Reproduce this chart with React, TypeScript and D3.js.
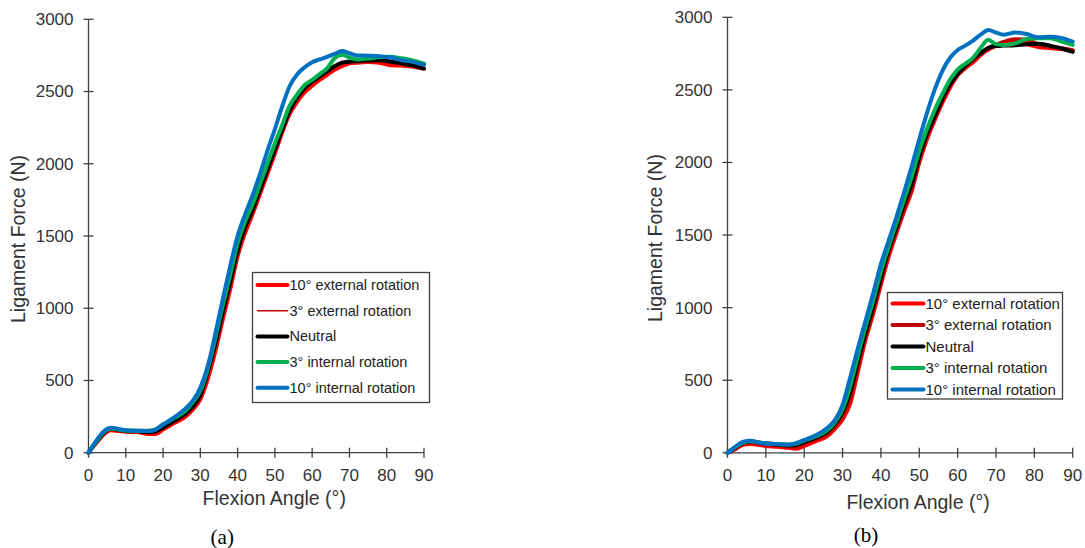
import React from "react";
import * as d3 from "d3";

// flexion angles (deg) at which forces were read
const angles = [0, 2, 4, 6, 8, 10, 13, 16, 18, 20, 23, 26, 28, 30, 32, 34, 36, 38, 40, 42, 44, 46, 48, 50, 52, 54, 56, 58, 60, 62, 64, 66, 68, 70, 72, 75, 78, 81, 84, 87, 90];

const seriesNames = ["10° external rotation", "3° external rotation", "Neutral", "3° internal rotation", "10° internal rotation"];
const seriesColors = ["#ff0000", "#c00000", "#000000", "#00b050", "#0070c0"];

// panel (a)
const aExt10 = [0, 65, 125, 155, 150, 145, 143, 130, 130, 160, 205, 250, 300, 370, 510, 700, 920, 1130, 1360, 1520, 1650, 1790, 1930, 2070, 2220, 2347, 2430, 2495, 2540, 2580, 2615, 2650, 2675, 2695, 2700, 2704, 2700, 2682, 2680, 2672, 2660];
const aExt3 = [0, 68, 130, 160, 155, 148, 146, 138, 140, 168, 212, 260, 310, 385, 535, 725, 945, 1155, 1380, 1540, 1665, 1805, 1945, 2085, 2230, 2360, 2445, 2510, 2555, 2592, 2628, 2662, 2688, 2700, 2705, 2708, 2708, 2695, 2688, 2676, 2659];
const aNeutral = [0, 70, 135, 165, 158, 150, 148, 142, 148, 175, 220, 270, 320, 400, 560, 750, 970, 1180, 1400, 1560, 1680, 1820, 1960, 2100, 2240, 2370, 2460, 2525, 2570, 2605, 2640, 2675, 2700, 2707, 2710, 2714, 2716, 2708, 2695, 2680, 2658];
const aInt3 = [0, 75, 140, 168, 160, 153, 152, 152, 162, 195, 240, 290, 350, 430, 580, 790, 1020, 1230, 1450, 1600, 1720, 1860, 2000, 2140, 2270, 2404, 2480, 2545, 2580, 2620, 2660, 2730, 2755, 2735, 2722, 2728, 2738, 2740, 2730, 2715, 2693];
const aInt10 = [0, 80, 145, 172, 165, 155, 152, 150, 160, 195, 245, 305, 360, 450, 600, 820, 1060, 1290, 1500, 1650, 1780, 1930, 2090, 2240, 2400, 2540, 2620, 2668, 2703, 2722, 2740, 2760, 2780, 2765, 2750, 2748, 2745, 2735, 2718, 2705, 2685];

// panel (b)
const bExt10 = [0, 25, 55, 60, 55, 47, 42, 34, 28, 47, 80, 115, 165, 230, 340, 560, 780, 960, 1160, 1350, 1510, 1660, 1800, 2000, 2160, 2290, 2410, 2515, 2600, 2650, 2690, 2740, 2778, 2805, 2825, 2843, 2815, 2795, 2788, 2782, 2772];
const bExt3 = [0, 30, 62, 70, 63, 55, 50, 42, 42, 62, 92, 130, 182, 255, 380, 595, 805, 985, 1185, 1375, 1530, 1680, 1825, 2020, 2180, 2305, 2425, 2528, 2605, 2658, 2702, 2748, 2785, 2810, 2830, 2848, 2845, 2812, 2798, 2788, 2772];
const bNeutral = [0, 35, 68, 80, 72, 64, 58, 50, 55, 76, 105, 145, 200, 280, 420, 630, 830, 1010, 1210, 1400, 1550, 1710, 1850, 2040, 2200, 2320, 2440, 2540, 2610, 2665, 2715, 2755, 2790, 2802, 2805, 2808, 2815, 2818, 2805, 2785, 2762];
const bInt3 = [0, 37, 70, 80, 72, 64, 60, 58, 64, 84, 112, 155, 210, 300, 460, 670, 870, 1050, 1250, 1420, 1580, 1740, 1900, 2080, 2230, 2360, 2470, 2570, 2640, 2680, 2720, 2790, 2845, 2815, 2810, 2820, 2850, 2855, 2855, 2835, 2810];
const bInt10 = [0, 40, 75, 83, 72, 65, 60, 56, 68, 88, 120, 170, 225, 330, 520, 720, 910, 1100, 1300, 1460, 1620, 1790, 1970, 2160, 2340, 2500, 2630, 2720, 2775, 2805, 2840, 2880, 2912, 2895, 2880, 2895, 2885, 2862, 2866, 2858, 2833];

const xTicks = [0, 10, 20, 30, 40, 50, 60, 70, 80, 90];
const yTicks = [0, 500, 1000, 1500, 2000, 2500, 3000];

const FONT = "'Liberation Sans', Arial, sans-serif";
const AXIS = "#404040";

type Panel = {
  label: string;
  series: number[][];
  x0: number; x1: number; yTop: number; yBot: number;
  thinSecond: boolean;
  legend: { x: number; y: number; w: number; h: number; row0: number; step: number; fs: number; lineW: number };
  yTitleX: number; xTitleY: number; tagY: number;
};

const panels: Panel[] = [
  {
    label: "(a)",
    series: [aExt10, aExt3, aNeutral, aInt3, aInt10],
    x0: 88.5, x1: 424, yTop: 19.3, yBot: 452.7,
    thinSecond: true,
    legend: { x: 252.5, y: 272.5, w: 177, h: 130, row0: 285, step: 25.7, fs: 14.5, lineW: 30 },
    yTitleX: 18, xTitleY: 505, tagY: 544,
  },
  {
    label: "(b)",
    series: [bExt10, bExt3, bNeutral, bInt3, bInt10],
    x0: 727.5, x1: 1072.7, yTop: 17.3, yBot: 452.8,
    thinSecond: false,
    legend: { x: 887.5, y: 292.5, w: 175, h: 106.5, row0: 303.5, step: 21.5, fs: 15, lineW: 31 },
    yTitleX: 655, xTitleY: 509, tagY: 542,
  },
];

function ChartPanel({ p }: { p: Panel }) {
  const x = d3.scaleLinear().domain([0, 90]).range([p.x0, p.x1]);
  const y = d3.scaleLinear().domain([0, 3000]).range([p.yBot, p.yTop]);
  const line = d3
    .line<number>()
    .x((_, i) => x(angles[i]))
    .y((d) => y(d))
    .curve(d3.curveMonotoneX);
  const lg = p.legend;
  const widthOf = (i: number) => (p.thinSecond && i === 1 ? 1.5 : 4);

  return (
    <g fontFamily={FONT}>
      {/* axes */}
      <line x1={p.x0} x2={p.x0} y1={p.yTop} y2={p.yBot} stroke={AXIS} strokeWidth={1.3} />
      <line x1={p.x0} x2={p.x1} y1={p.yBot} y2={p.yBot} stroke={AXIS} strokeWidth={1.3} />
      {yTicks.map((t) => (
        <g key={"y" + t}>
          <line x1={p.x0 - 5} x2={p.x0 + 5} y1={y(t)} y2={y(t)} stroke={AXIS} strokeWidth={1.3} />
          <text x={p.x0 - 15} y={y(t)} dy="0.35em" textAnchor="end" fontSize={17} fill="#333">
            {t}
          </text>
        </g>
      ))}
      {xTicks.map((t) => (
        <g key={"x" + t}>
          <line x1={x(t)} x2={x(t)} y1={p.yBot - 5} y2={p.yBot + 5} stroke={AXIS} strokeWidth={1.3} />
          <text x={x(t)} y={p.yBot + 22} dy="0.35em" textAnchor="middle" fontSize={17} fill="#333">
            {t}
          </text>
        </g>
      ))}
      <text
        transform={`translate(${p.yTitleX},${(p.yTop + p.yBot) / 2 + 3}) rotate(-90)`}
        textAnchor="middle"
        dy="0.35em"
        fontSize={19.5}
        fill="#333"
      >
        Ligament Force (N)
      </text>
      <text x={(p.x0 + p.x1) / 2 + 18} y={p.xTitleY} textAnchor="middle" fontSize={19.5} fill="#333">
        Flexion Angle (°)
      </text>
      <text x={(p.x0 + p.x1) / 2 - 34} y={p.tagY} textAnchor="middle" fontSize={21} fontFamily="'Liberation Serif', 'Times New Roman', serif" fill="#000">
        {p.label}
      </text>

      {/* curves */}
      {p.series.map((s, i) => (
        <path
          key={i}
          d={line(s) || ""}
          fill="none"
          stroke={seriesColors[i]}
          strokeWidth={widthOf(i)}
          strokeLinejoin="round"
          strokeLinecap="round"
        />
      ))}

      {/* legend */}
      <rect x={lg.x} y={lg.y} width={lg.w} height={lg.h} fill="#fff" stroke={AXIS} strokeWidth={1.3} />
      {seriesNames.map((n, i) => {
        const ry = lg.row0 + i * lg.step;
        return (
          <g key={n}>
            <line
              x1={lg.x + 5}
              x2={lg.x + 5 + lg.lineW}
              y1={ry}
              y2={ry}
              stroke={seriesColors[i]}
              strokeWidth={widthOf(i)}
              strokeLinecap="round"
            />
            <text x={lg.x + 7 + lg.lineW} y={ry} dy="0.35em" fontSize={lg.fs} fill="#222">
              {n}
            </text>
          </g>
        );
      })}
    </g>
  );
}

export default function App() {
  return (
    <svg
      width={1085}
      height={548}
      style={{ position: "absolute", left: 0, top: 0, background: "#fff" }}
    >
      {panels.map((p) => (
        <ChartPanel key={p.label} p={p} />
      ))}
    </svg>
  );
}
